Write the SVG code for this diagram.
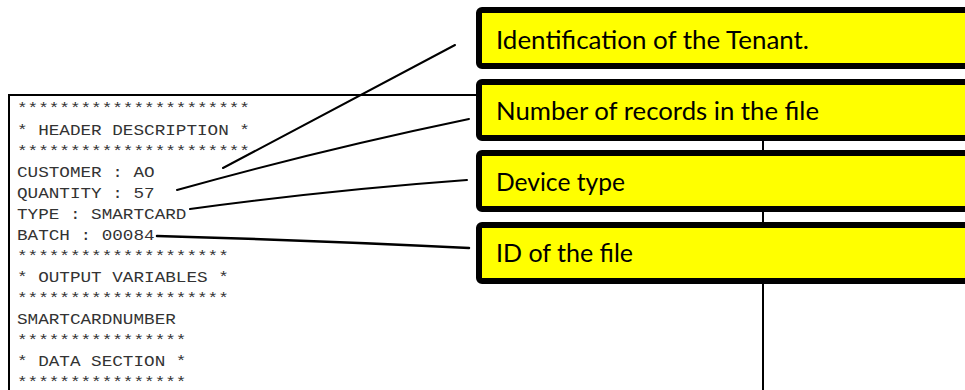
<svg xmlns="http://www.w3.org/2000/svg" width="965" height="390" viewBox="0 0 965 390">
<style>
.mono{font-family:"Liberation Mono","Courier New",monospace;font-size:14.5px;fill:#333}
.box{fill:#ffff00;stroke:#000;stroke-width:6}
.lbl{font-family:Lato,"Open Sans",sans-serif;font-size:25px;fill:#000}
.frame{stroke:#000;stroke-width:2;fill:none}
.conn{stroke:#000;stroke-width:2;fill:none;stroke-linecap:round}
</style>
<rect width="965" height="390" fill="#fff"/>
<g id="document">
<path class="frame" d="M9,390 V95 H763 V390"/>
<g transform="translate(17,0) scale(1.218,1)">
<text class="mono" x="0" y="113">**********************</text>
<text class="mono" x="0" y="135">* HEADER DESCRIPTION *</text>
<text class="mono" x="0" y="156">**********************</text>
<text class="mono" x="0" y="177">CUSTOMER : AO</text>
<text class="mono" x="0" y="198">QUANTITY : 57</text>
<text class="mono" x="0" y="219">TYPE : SMARTCARD</text>
<text class="mono" x="0" y="240">BATCH : 00084</text>
<text class="mono" x="0" y="261">********************</text>
<text class="mono" x="0" y="282">* OUTPUT VARIABLES *</text>
<text class="mono" x="0" y="303">********************</text>
<text class="mono" x="0" y="324">SMARTCARDNUMBER</text>
<text class="mono" x="0" y="345">****************</text>
<text class="mono" x="0" y="366">* DATA SECTION *</text>
<text class="mono" x="0" y="387">****************</text>
</g>
</g>
<g id="connectors">
<path class="conn" d="M223,168 L455,45"/>
<path class="conn" d="M177,190 Q320,150 469,119"/>
<path class="conn" d="M190,209 Q330,190 467,180"/>
<path class="conn" style="stroke-width:2.5" d="M157,236 Q310,240 469,248"/>
</g>
<g id="box1">
<rect class="box" x="479" y="10" width="520" height="56" rx="3"/>
<text class="lbl" x="496" y="49" textLength="313" lengthAdjust="spacingAndGlyphs">Identification of the Tenant.</text>
</g>
<g id="box2">
<rect class="box" x="479" y="82" width="520" height="56" rx="3"/>
<text class="lbl" x="496" y="120" textLength="323" lengthAdjust="spacingAndGlyphs">Number of records in the file</text>
</g>
<g id="box3">
<rect class="box" x="479" y="153" width="520" height="56" rx="3"/>
<text class="lbl" x="496" y="191" textLength="129" lengthAdjust="spacingAndGlyphs">Device type</text>
</g>
<g id="box4">
<rect class="box" x="479" y="225" width="520" height="56" rx="3"/>
<text class="lbl" x="496" y="262" textLength="137" lengthAdjust="spacingAndGlyphs">ID of the file</text>
</g>
</svg>
